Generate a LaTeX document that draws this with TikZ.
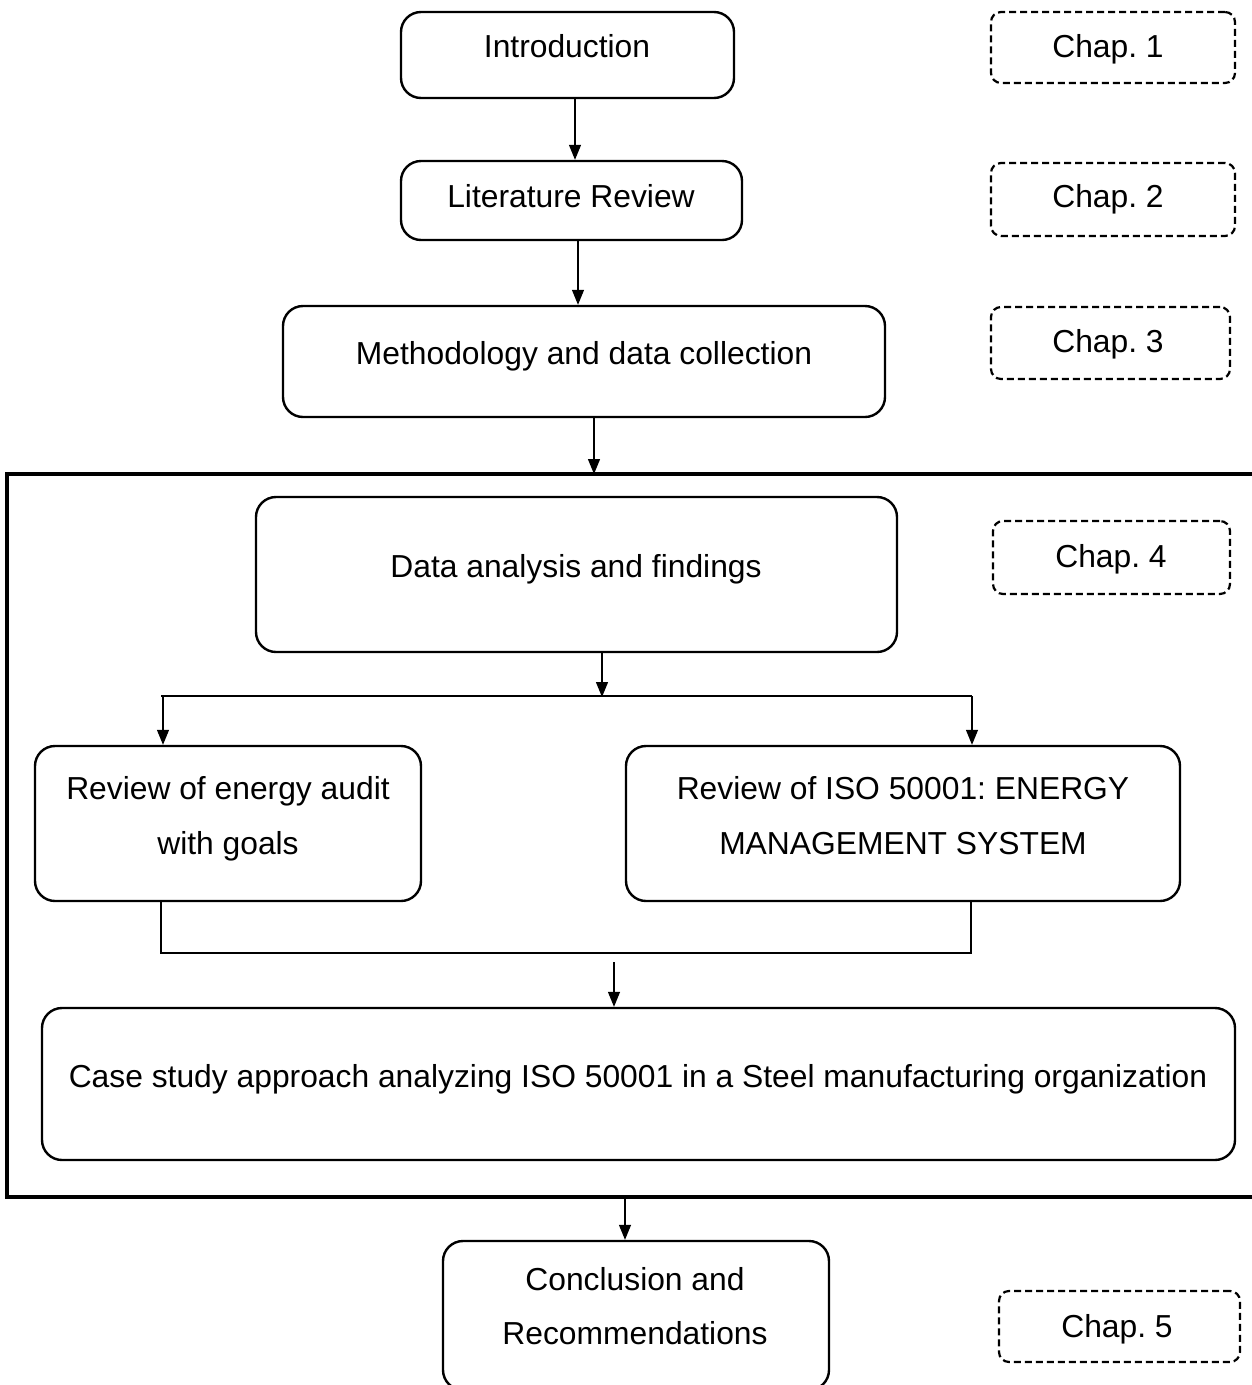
\documentclass[tikz,border=0pt]{standalone}
\usepackage{fontspec}
\setmainfont{Liberation Sans}
\usetikzlibrary{arrows.meta}
\frenchspacing
\begin{document}
\begin{tikzpicture}[x=1pt,y=-1pt,
  box/.style={draw, line width=2.4pt, rounded corners=20pt, inner sep=0pt},
  chapbox/.style={draw, line width=2.2pt, dashed, dash pattern=on 7pt off 4pt, rounded corners=10pt, inner sep=0pt},
  txt/.style={font=\fontsize{31.8}{38}\selectfont, anchor=base, inner sep=0pt},
  link/.style={line width=1.3pt},
  arr/.style={link, -{Triangle[length=15pt,width=12pt]}},
  frame/.style={line width=4pt}]
\useasboundingbox (0,0) rectangle (1252,1385);

% main chain of boxes
\node[box, minimum width=333pt, minimum height=86pt] (intro) at (567.5,55) {};
\node[txt] (introT) at (567,57) {Introduction};
\node[box, minimum width=341pt, minimum height=79pt] (lit) at (571.5,200.5) {};
\node[txt] (litT) at (571,207) {Literature Review};
\node[box, minimum width=602pt, minimum height=111pt] (meth) at (584,361.5) {};
\node[txt] (methT) at (584,364) {Methodology and data collection};

% framed block of chapter 4
\draw[frame] (1262,474) -- (7,474) -- (7,1197) -- (1262,1197);
\coordinate (ftop) at (594,474);
\coordinate (fbot) at (625,1197);

\node[box, minimum width=641pt, minimum height=155pt] (data) at (576.5,574.5) {};
\node[txt] (dataT) at (576,577) {Data analysis and findings};
\node[box, minimum width=386pt, minimum height=155pt] (audit) at (228,823.5) {};
\node[txt] (auditT1) at (228,799) {Review of energy audit};
\node[txt] (auditT2) at (228,854) {with goals};
\node[box, minimum width=554pt, minimum height=155pt] (iso) at (903,823.5) {};
\node[txt] (isoT1) at (903,799) {Review of ISO 50001: ENERGY};
\node[txt] (isoT2) at (903,854) {MANAGEMENT SYSTEM};
\node[box, minimum width=1193pt, minimum height=152pt] (case) at (638.5,1084) {};
\node[txt] (caseT) at (638,1087) {Case study approach analyzing ISO 50001 in a Steel manufacturing organization};

\node[box, minimum width=386pt, minimum height=149pt] (concl) at (636,1315.5) {};
\node[txt] (conclT1) at (635,1290) {Conclusion and};
\node[txt] (conclT2) at (635,1344) {Recommendations};

% chapter tags
\node[chapbox, minimum width=244pt, minimum height=71pt] (c1) at (1113,47.5) {};
\node[txt] (c1T) at (1108,57) {Chap. 1};
\node[chapbox, minimum width=244pt, minimum height=73pt] (c2) at (1113,199.5) {};
\node[txt] (c2T) at (1108,207) {Chap. 2};
\node[chapbox, minimum width=239pt, minimum height=72pt] (c3) at (1110.5,343) {};
\node[txt] (c3T) at (1108,352) {Chap. 3};
\node[chapbox, minimum width=237pt, minimum height=73pt] (c4) at (1111.5,557.5) {};
\node[txt] (c4T) at (1111,567) {Chap. 4};
\node[chapbox, minimum width=241pt, minimum height=71pt] (c5) at (1119.5,1326.5) {};
\node[txt] (c5T) at (1117,1337) {Chap. 5};

% connectors
\draw[arr] (intro.south -| 575,0) -- (lit.north -| 575,0);
\draw[arr] (lit.south -| 578,0) -- (meth.north -| 578,0);
\draw[arr] (meth.south -| 594,0) -- (ftop);

\coordinate (splitL) at (161,696);
\coordinate (splitR) at (972,696);
\draw[arr] (data.south -| 602,0) -- (602,697);
\draw[link] (splitL) -- (splitR);
\draw[arr] (163,696) -- (audit.north -| 163,0);
\draw[arr] (splitR) -- (iso.north -| 972,0);

\coordinate (joinL) at (161,953);
\coordinate (joinR) at (971,953);
\draw[link] (audit.south -| 161,0) -- (joinL) -- (joinR) -- (iso.south -| 971,0);
\draw[arr] (614,962) -- (case.north -| 614,0);

\draw[arr] (fbot) -- (concl.north -| 625,0);
\end{tikzpicture}
\end{document}
